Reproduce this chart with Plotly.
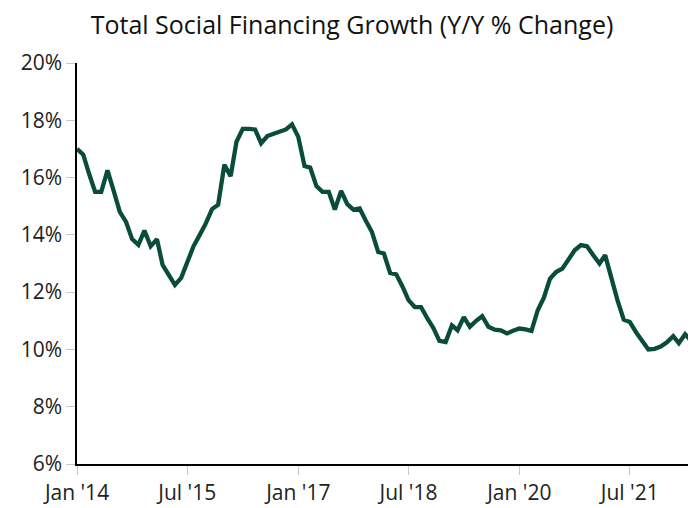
import plotly.graph_objects as go
import pandas as pd

start_month = "2014-01-01"
growth = [
    17.0, 16.8, 16.15, 15.5, 15.5, 16.25, 15.55, 14.8, 14.45, 13.85, 13.65, 14.15,
    13.6, 13.85, 12.95, 12.6, 12.25, 12.5, 13.05, 13.6, 14.0, 14.4, 14.9, 15.05,
    16.45, 16.05, 17.25, 17.7, 17.7, 17.68, 17.2, 17.45, 17.53, 17.6, 17.68, 17.86,
    17.42, 16.4, 16.35, 15.7, 15.5, 15.5, 14.88, 15.53, 15.07, 14.88, 14.92, 14.5,
    14.1, 13.4, 13.35, 12.67, 12.62, 12.2, 11.72, 11.48, 11.48, 11.1, 10.75, 10.3,
    10.26, 10.84, 10.67, 11.13, 10.79, 11.0, 11.16, 10.79, 10.69, 10.67, 10.56, 10.65,
    10.73, 10.7, 10.65, 11.37, 11.8, 12.47, 12.7, 12.82, 13.17, 13.46, 13.64, 13.6,
    13.29, 13.0, 13.29, 12.42, 11.72, 11.04, 10.96, 10.6, 10.3, 10.0, 10.02, 10.1,
    10.25, 10.46, 10.22, 10.53, 10.3,
]
dates = pd.date_range(start_month, periods=len(growth), freq="MS")

x_tick_vals = ["2014-01-01", "2015-07-01", "2017-01-01", "2018-07-01", "2020-01-01", "2021-07-01"]
x_tick_text = ["Jan '14", "Jul '15", "Jan '17", "Jul '18", "Jan '20", "Jul '21"]
y_tick_vals = [6, 8, 10, 12, 14, 16, 18, 20]
y_tick_text = ["6%", "8%", "10%", "12%", "14%", "16%", "18%", "20%"]

fig = go.Figure()
fig.add_trace(go.Scatter(
    x=dates, y=growth, mode="lines",
    line=dict(color="#0a4c3a", width=4.3),
    hoverinfo="skip",
))

font_family = "'Open Sans', 'Noto Sans', sans-serif"
fig.update_layout(
    width=688, height=500,
    margin=dict(l=69, r=0, t=55, b=44),
    paper_bgcolor="white", plot_bgcolor="white",
    showlegend=False,
    title=dict(text="Total Social Financing Growth (Y/Y % Change)",
               x=0.5, xref="container", xanchor="center",
               y=0.966, yref="container", yanchor="middle",
               font=dict(family=font_family, size=25, color="#111")),
    font=dict(family=font_family, size=21, color="#222"),
)
fig.update_xaxes(
    type="date",
    range=["2014-01-01", "2022-05-25"],
    tickvals=x_tick_vals, ticktext=x_tick_text,
    showline=True, linecolor="black", linewidth=1.5,
    ticks="outside", ticklen=9, tickcolor="#c8c8c8", tickwidth=1,
    showgrid=False, zeroline=False,
    tickfont=dict(size=21, color="#222"),
)
fig.update_yaxes(
    range=[6, 20],
    tickvals=y_tick_vals, ticktext=y_tick_text,
    showline=True, linecolor="black", linewidth=1.5,
    ticks="outside", ticklen=9, tickcolor="#c8c8c8", tickwidth=1,
    showgrid=False, zeroline=False,
    tickfont=dict(size=21, color="#222"),
)

fig.write_html("out.html")
